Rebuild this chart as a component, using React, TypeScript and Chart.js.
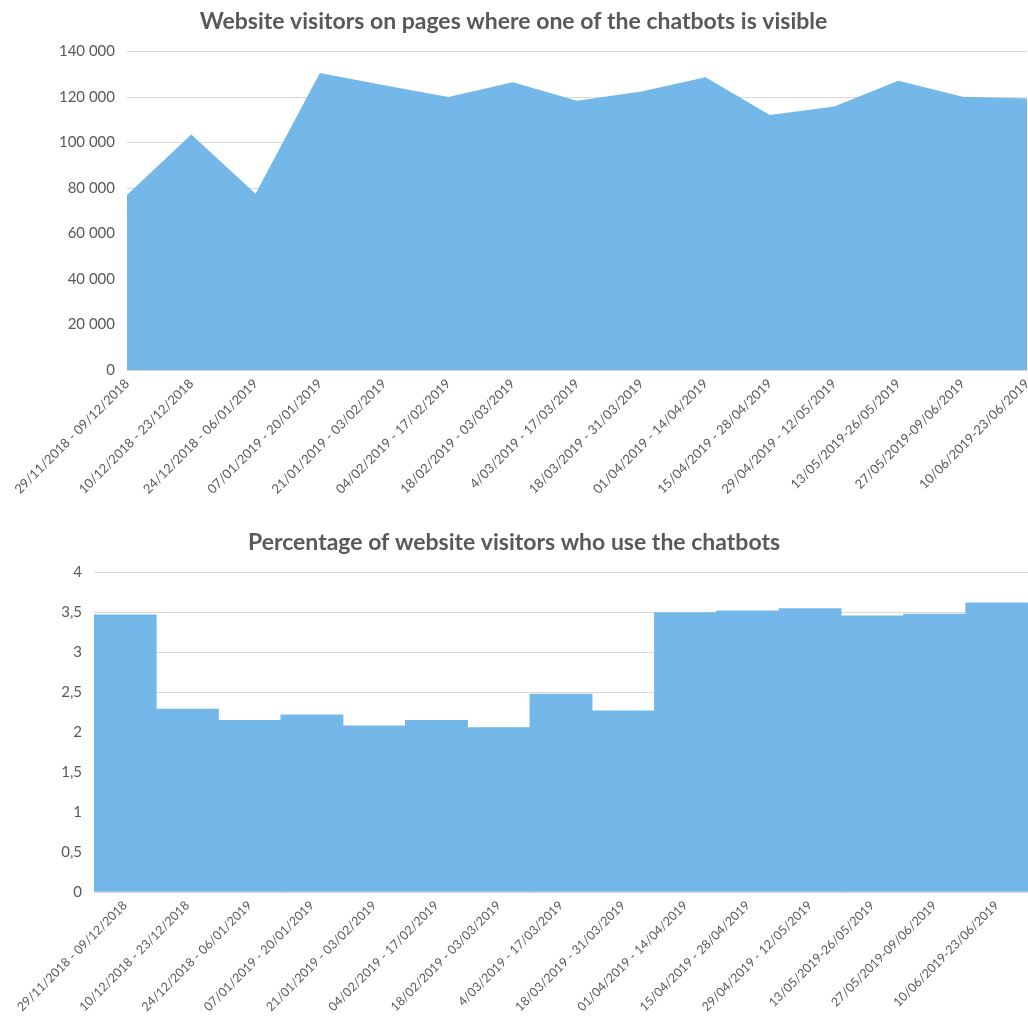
import React, { useEffect, useRef } from "react";
import { Chart, registerables } from "chart.js";

Chart.register(...registerables);

const categories = [
  "29/11/2018 - 09/12/2018",
  "10/12/2018 - 23/12/2018",
  "24/12/2018 - 06/01/2019",
  "07/01/2019 - 20/01/2019",
  "21/01/2019 - 03/02/2019",
  "04/02/2019 - 17/02/2019",
  "18/02/2019 - 03/03/2019",
  "4/03/2019 - 17/03/2019",
  "18/03/2019 - 31/03/2019",
  "01/04/2019 - 14/04/2019",
  "15/04/2019 - 28/04/2019",
  "29/04/2019 - 12/05/2019",
  "13/05/2019-26/05/2019",
  "27/05/2019-09/06/2019",
  "10/06/2019-23/06/2019",
];

const visitors = [
  77000, 103500, 77500, 130600, 125200, 120000, 126500, 118400, 122500,
  128700, 112100, 115900, 127200, 120200, 119400,
];

const chatbotPercent = [
  3.47, 2.29, 2.15, 2.22, 2.08, 2.15, 2.06, 2.48, 2.27, 3.5, 3.52, 3.55, 3.46,
  3.48, 3.62,
];

const visitorsTitle = "Website visitors on pages where one of the chatbots is visible";
const percentTitle = "Percentage of website visitors who use the chatbots";

const FILL = "#74b8e9";
const TEXT = "#595959";
const GRID = "#d9d9d9";
const FONT = "Lato, 'DejaVu Sans', sans-serif";

function fmtThousands(v: number): string {
  const s = Math.round(v).toString();
  return s.replace(/\B(?=(\d{3})+(?!\d))/g, " ");
}

function fmtComma(v: number): string {
  return String(v).replace(".", ",");
}

function TopChart() {
  const ref = useRef<HTMLCanvasElement | null>(null);
  useEffect(() => {
    if (!ref.current) return;
    const chart = new Chart(ref.current, {
      type: "line",
      data: {
        labels: categories,
        datasets: [
          {
            data: visitors,
            fill: "origin",
            backgroundColor: FILL,
            borderWidth: 0,
            pointRadius: 0,
            tension: 0,
          },
        ],
      },
      options: {
        responsive: false,
        animation: false,
        layout: { padding: { left: 0, right: 1, top: 0, bottom: 0 } },
        plugins: {
          legend: { display: false },
          tooltip: { enabled: false },
          title: {
            display: true,
            text: visitorsTitle,
            color: TEXT,
            font: { family: FONT, size: 23, weight: "bold" },
            padding: { top: 8, bottom: 16 },
          },
        },
        scales: {
          x: {
            offset: false,
            grid: { display: false, drawTicks: false },
            border: { color: GRID },
            ticks: {
              autoSkip: false,
              maxRotation: 45,
              minRotation: 45,
              padding: 6,
              color: TEXT,
              font: { family: FONT, size: 13 },
            },
            afterFit: (s: any) => {
              s.height = 145;
              s.paddingLeft = 0;
              s.paddingRight = 0;
            },
          },
          y: {
            min: 0,
            max: 140000,
            ticks: {
              stepSize: 20000,
              padding: 12,
              color: TEXT,
              font: { family: FONT, size: 15 },
              callback: (v: any) => fmtThousands(Number(v)),
            },
            grid: { color: GRID, drawTicks: false },
            border: { display: false },
            afterFit: (s: any) => {
              s.width = 127;
              s.paddingTop = 0;
              s.paddingBottom = 0;
            },
          },
        },
      },
    });
    return () => chart.destroy();
  }, []);
  return <canvas ref={ref} width={1028} height={515} style={{ display: "block" }} />;
}

function BottomChart() {
  const ref = useRef<HTMLCanvasElement | null>(null);
  useEffect(() => {
    if (!ref.current) return;
    const chart = new Chart(ref.current, {
      type: "bar",
      data: {
        labels: categories,
        datasets: [
          {
            data: chatbotPercent,
            backgroundColor: FILL,
            borderWidth: 0,
            categoryPercentage: 1,
            barPercentage: 1,
          },
        ],
      },
      options: {
        responsive: false,
        animation: false,
        layout: { padding: { left: 0, right: 0, top: 0, bottom: 0 } },
        plugins: {
          legend: { display: false },
          tooltip: { enabled: false },
          title: {
            display: true,
            text: percentTitle,
            color: TEXT,
            font: { family: FONT, size: 23, weight: "bold" },
            padding: { top: 14, bottom: 16 },
          },
        },
        scales: {
          x: {
            grid: { display: false, drawTicks: false },
            border: { color: GRID },
            ticks: {
              autoSkip: false,
              maxRotation: 45,
              minRotation: 45,
              padding: 6,
              color: TEXT,
              font: { family: FONT, size: 12.5 },
            },
            afterFit: (s: any) => {
              s.height = 133;
              s.paddingLeft = 0;
              s.paddingRight = 0;
            },
          },
          y: {
            min: 0,
            max: 4,
            ticks: {
              stepSize: 0.5,
              padding: 12,
              color: TEXT,
              font: { family: FONT, size: 15 },
              callback: (v: any) => fmtComma(Number(v)),
            },
            grid: { color: GRID, drawTicks: false },
            border: { display: false },
            afterFit: (s: any) => {
              s.width = 94;
              s.paddingTop = 0;
              s.paddingBottom = 0;
            },
          },
        },
      },
    });
    return () => chart.destroy();
  }, []);
  return <canvas ref={ref} width={1028} height={510} style={{ display: "block" }} />;
}

export default function App() {
  return (
    <div
      style={{
        position: "absolute",
        left: 0,
        top: 0,
        width: 1028,
        height: 1025,
        background: "#ffffff",
        overflow: "hidden",
      }}
    >
      <TopChart />
      <BottomChart />
    </div>
  );
}
